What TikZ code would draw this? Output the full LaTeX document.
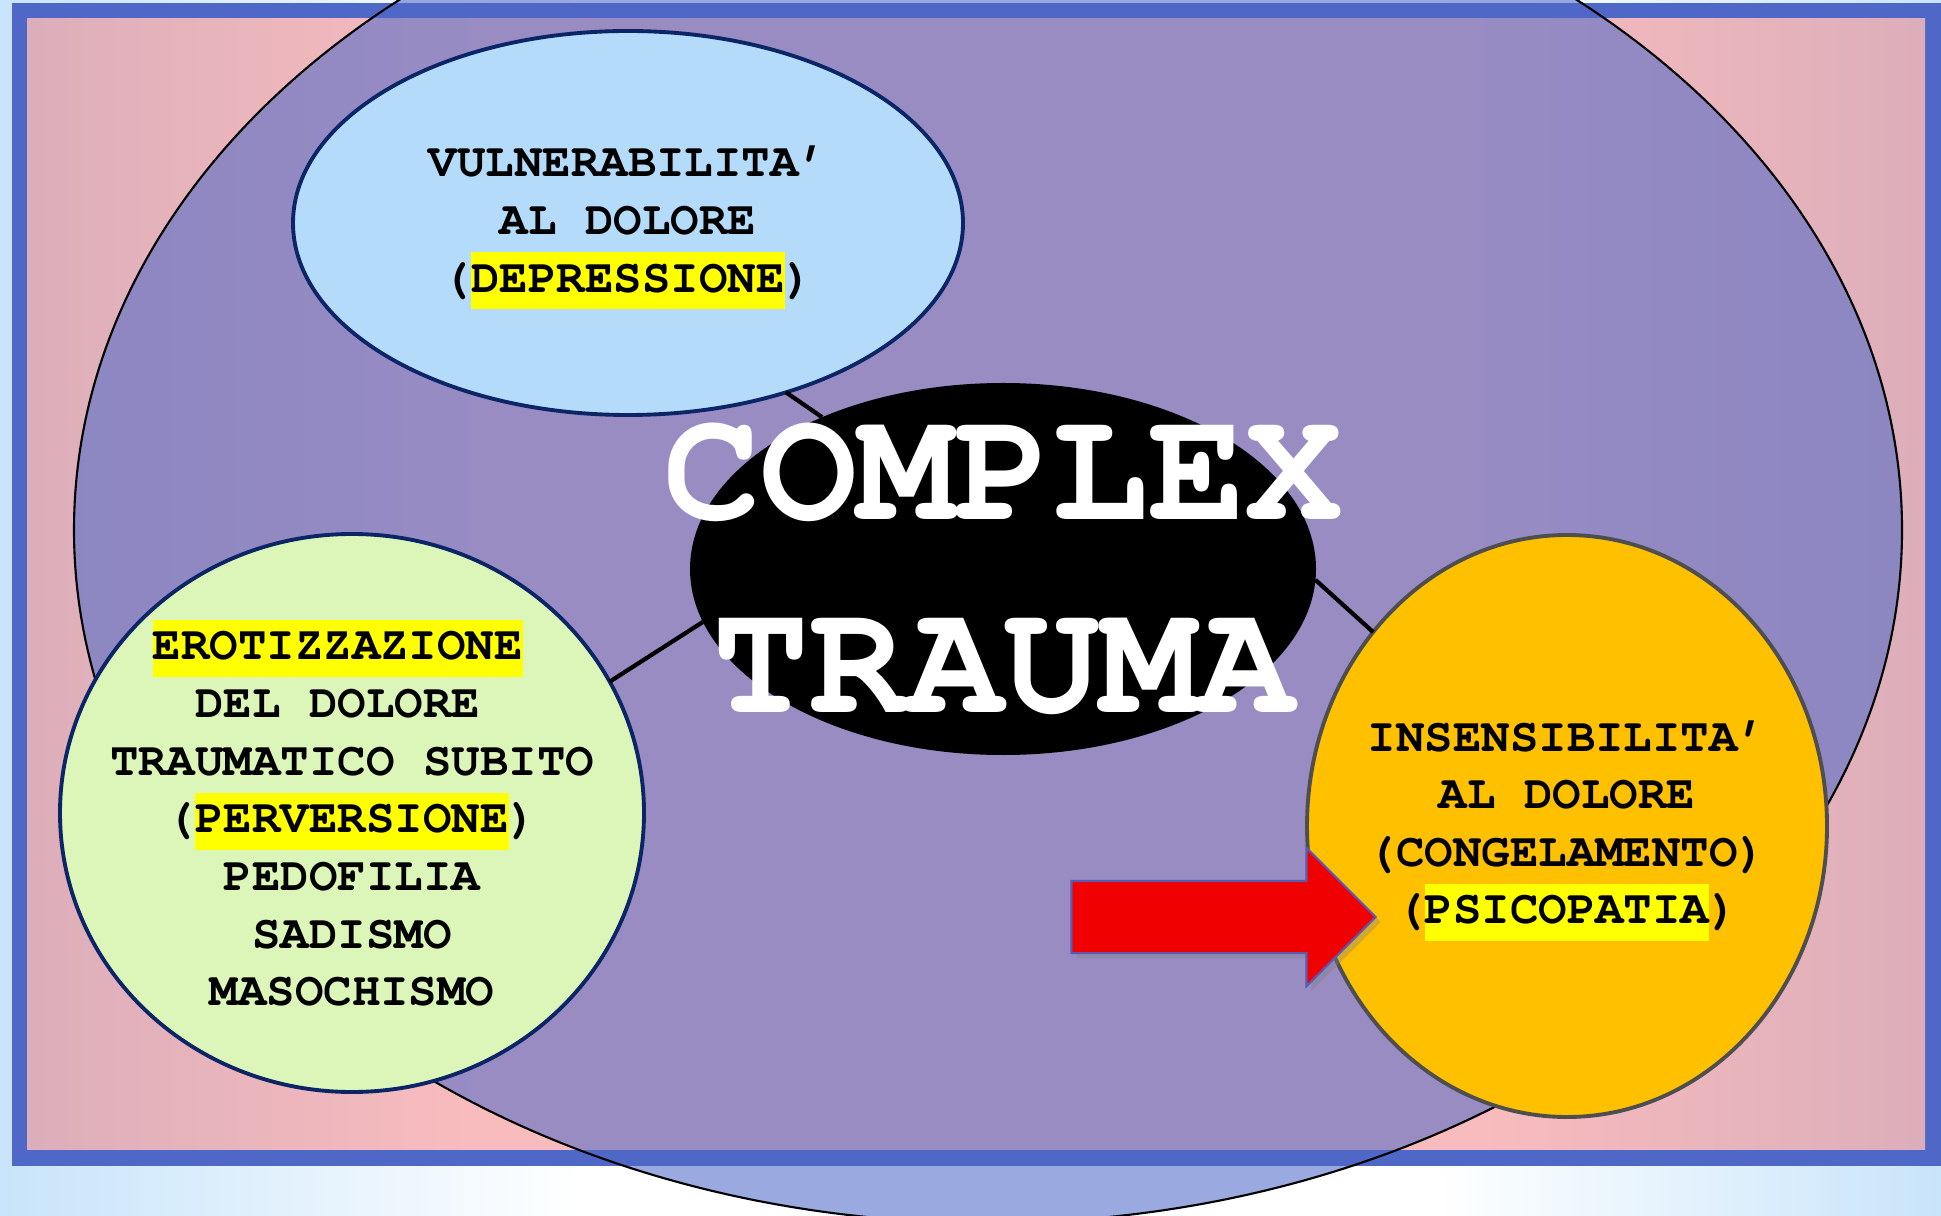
\documentclass[tikz,border=0pt]{standalone}
\usepackage{fontspec}
\setmonofont{texgyrecursor}[Extension=.otf, UprightFont=*-regular, BoldFont=*-bold]
\usepackage{xcolor}
\usetikzlibrary{shapes.geometric, shapes.arrows, shadows}
\definecolor{skyback}{HTML}{C8E4FA}
\definecolor{frameblue}{HTML}{4F68C8}
\definecolor{pinkmid}{HTML}{F9BCBE}
\definecolor{pinkedge}{HTML}{DCAEBA}
\definecolor{vulnblue}{HTML}{B4DCFA}
\definecolor{erotgreen}{HTML}{DCF6B9}
\definecolor{insensorange}{HTML}{FFC000}
\definecolor{navyline}{HTML}{0C2566}
\definecolor{greyline}{HTML}{4E4E4E}
\definecolor{hlyellow}{HTML}{FFFF00}
\definecolor{arrowred}{HTML}{F00000}
\definecolor{arrowedge}{HTML}{5A5AB4}
\def\hl(#1){{\setlength{\fboxsep}{0pt}\colorbox{hlyellow}{\strut #1}}}
\pgfdeclarehorizontalshading{skywall}{100bp}{color(0bp)=(skyback); color(25bp)=(skyback); color(40bp)=(white); color(62bp)=(white); color(75bp)=(skyback); color(100bp)=(skyback)}
\pgfdeclarehorizontalshading{pinkwall}{100bp}{color(0bp)=(pinkedge); color(25bp)=(pinkedge); color(37bp)=(pinkmid); color(63bp)=(pinkmid); color(75bp)=(pinkedge); color(100bp)=(pinkedge)}
\tikzstyle{bubble} = [ellipse, inner sep=0pt, outer sep=0pt, line width=1.1pt]
\tikzstyle{txt} = [align=center, font=\ttfamily\bfseries\fontsize{13.5}{16.4}\selectfont]
\tikzstyle{link} = [line width=1.2pt, black]

\begin{document}
\begin{tikzpicture}
\useasboundingbox (0,0) rectangle (19.41,12.15);
\clip (0,0) rectangle (19.41,12.15);
\shade[shading=skywall] (0,0) rectangle (19.41,12.15);
\fill[frameblue] (0.12,0.49) rectangle (19.41,12.12);
\shade[shading=pinkwall] (0.27,0.66) rectangle (19.25,11.96);
\draw[line width=0.6pt, fill=frameblue, fill opacity=0.57] (9.88,6.85) ellipse [x radius=9.14, y radius=6.93];
\node[bubble, fill=vulnblue, draw=navyline, minimum width=6.70cm, minimum height=3.84cm] (vuln) at (6.28,9.92) {};
\node[bubble, fill=black, minimum width=6.26cm, minimum height=3.72cm] (trauma) at (10.03,6.46) {};
\node[bubble, fill=erotgreen, draw=navyline, minimum width=5.84cm, minimum height=5.58cm] (erot) at (3.52,4.02) {};
\node[bubble, fill=insensorange, draw=greyline, minimum width=5.20cm, minimum height=5.82cm] (insens) at (15.67,3.89) {};
\draw[link] (vuln.-47) -- (trauma.140);
\draw[link] (trauma.-2) -- (insens.135);
\draw[link] (erot.27) -- (trauma.190);
\node[txt] (vulntxt) at (vuln) {\strut VULNERABILITA’\\AL DOLORE\\(\hl(DEPRESSIONE))};
\node[txt] (erottxt) at (erot) {\hl(EROTIZZAZIONE)\hphantom{X}\\DEL DOLORE\hphantom{X}\\TRAUMATICO SUBITO\\(\hl(PERVERSIONE))\\PEDOFILIA\\SADISMO\\MASOCHISMO};
\node[txt] (insenstxt) at (insens) {\strut INSENSIBILITA’\\AL DOLORE\\(CONGELAMENTO)\\(\hl(PSICOPATIA))};
\node[align=center, text=white, font=\ttfamily\bfseries\fontsize{46}{55}\selectfont] (traumatxt) at (trauma) {COMPLEX\\TRAUMA};
\node[single arrow, fill=arrowred, draw=arrowedge, line width=0.6pt, inner xsep=0pt, inner ysep=0.35cm, single arrow head extend=0.33cm, minimum height=3.04cm, anchor=tip, drop shadow={shadow xshift=0.5mm, shadow yshift=-0.5mm, opacity=0.35}] (pointer) at (13.77,2.98) {};
\end{tikzpicture}
\end{document}
